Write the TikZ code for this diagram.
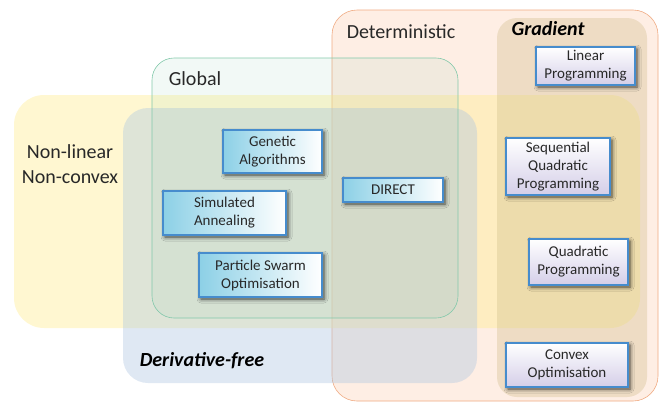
\documentclass[tikz,border=0pt]{standalone}
\usepackage{fontspec}
\setmainfont{Carlito}
\usetikzlibrary{shadows.blur}

\definecolor{peach}{RGB}{252,214,190}
\definecolor{peachline}{RGB}{240,170,130}
\definecolor{sunny}{RGB}{255,236,140}
\definecolor{greyblue}{RGB}{175,198,225}
\definecolor{leaf}{RGB}{130,200,170}
\definecolor{tan}{RGB}{205,185,130}
\definecolor{boxblue}{RGB}{70,140,205}
\definecolor{boxcyan}{RGB}{140,208,230}
\definecolor{boxlav}{RGB}{212,206,232}
\definecolor{ink}{RGB}{40,40,40}

\begin{document}
\begin{tikzpicture}[x=1pt, y=-1pt,
  lbl/.style={text=ink, font=\fontsize{20}{25}\selectfont, align=center},
  algo/.style={draw=boxblue, line width=1.4pt, align=center, text=ink,
    font=\fontsize{15}{18}\selectfont, inner sep=2pt,
    blur shadow={shadow xshift=2pt, shadow yshift=-2pt, shadow blur radius=4pt, shadow opacity=75}},
  algoL/.style={algo, left color=boxcyan, right color=white},
  algoR/.style={algo, top color=white, bottom color=boxlav}]
\useasboundingbox (0,0) rectangle (660,402);
% Regions
\draw[rounded corners=25pt, fill=peach, fill opacity=0.42, draw=peachline, line width=0.6pt] (332,10) rectangle (658,401);
\fill[rounded corners=30pt, sunny, opacity=0.4] (14,95) rectangle (640,328);
\fill[rounded corners=25pt, greyblue, opacity=0.4] (123,108) rectangle (477,383);
\draw[rounded corners=22pt, fill=leaf, fill opacity=0.1, draw=leaf, line width=0.6pt] (152,58) rectangle (458,318);
\fill[rounded corners=20pt, tan, opacity=0.32] (497,18) rectangle (647,397);
% Region labels
\node[lbl] (determ) at (401,32) {Deterministic};
\node[lbl, font=\fontsize{20}{25}\selectfont\bfseries\itshape, text=black] (grad) at (548,29) {Gradient};
\node[lbl] (global) at (195,79) {Global};
\node[lbl] (nonlin) at (70,164) {Non-linear\\Non-convex};
\node[lbl, font=\fontsize{20}{25}\selectfont\bfseries\itshape, text=black] (dfree) at (202,361) {Derivative-free};
% Methods
\node[algoL, minimum width=99pt, minimum height=43pt] (ga) at (272.5,151.5) {Genetic\\Algorithms};
\node[algoL, minimum width=123pt, minimum height=44pt] (sa) at (224.5,213) {Simulated\\Annealing};
\node[algoL, minimum width=123pt, minimum height=44pt] (pso) at (260.5,275) {Particle Swarm\\Optimisation};
\node[algoL, minimum width=100pt, minimum height=24pt] (direct) at (393,190) {DIRECT};
\node[algoR, minimum width=99pt, minimum height=38pt] (lp) at (585.5,66) {Linear\\Programming};
\node[algoR, minimum width=104pt, minimum height=57pt] (sqp) at (558,166.5) {Sequential\\Quadratic\\Programming};
\node[algoR, minimum width=99pt, minimum height=46pt] (qp) at (578.5,262) {Quadratic\\Programming};
\node[algoR, minimum width=122pt, minimum height=44pt] (cvx) at (567,365) {Convex\\Optimisation};
\end{tikzpicture}
\end{document}
